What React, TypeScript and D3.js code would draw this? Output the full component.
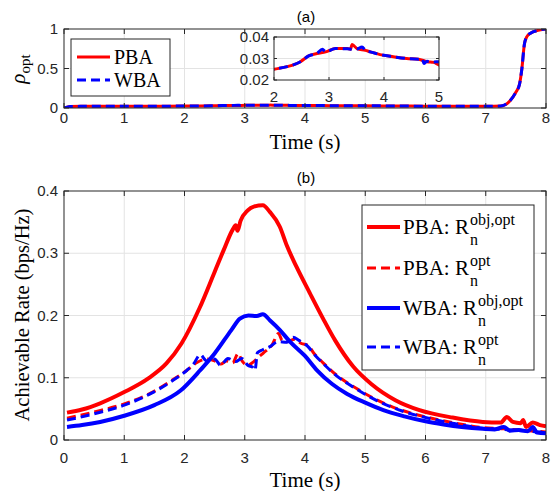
import React from 'react';
import * as d3 from 'd3';

// tick values
const timeTicks = [0, 1, 2, 3, 4, 5, 6, 7, 8];
const rhoTicks = [0, 0.5, 1];
const rateTicks = [0, 0.1, 0.2, 0.3, 0.4];
const insetXTicks = [2, 3, 4, 5];
const insetYTicks = [0.02, 0.03, 0.04];

// (a) rho_opt
const rhoPbaT = [0, 0.05, 0.1, 0.5, 1, 1.5, 2, 2.24, 2.48, 2.63, 2.78, 2.94, 3.12, 3.33, 3.39, 3.42, 3.51, 3.66, 3.75, 3.93, 4.17, 4.41, 4.63, 4.78, 4.9, 5.0, 5.5, 6.0, 6.5, 7.0, 7.25, 7.4, 7.5, 7.56, 7.6, 7.64, 7.68, 7.75, 7.85, 8.0];
const rhoPbaV = [0, 0.01, 0.02, 0.021, 0.021, 0.022, 0.025, 0.0262, 0.0285, 0.0312, 0.0323, 0.0331, 0.0346, 0.0346, 0.0343, 0.0365, 0.0346, 0.0338, 0.0331, 0.0318, 0.0308, 0.030, 0.0297, 0.0285, 0.0282, 0.027, 0.025, 0.023, 0.022, 0.021, 0.025, 0.09, 0.2, 0.3, 0.5, 0.8, 0.9, 0.95, 0.98, 1.0];
const rhoWbaT = [0, 0.05, 0.1, 0.5, 1, 1.5, 2, 2.24, 2.48, 2.63, 2.78, 2.88, 2.94, 3.12, 3.33, 3.42, 3.51, 3.6, 3.66, 3.75, 3.93, 4.17, 4.41, 4.63, 4.69, 4.73, 4.78, 4.9, 5.0, 5.5, 6.0, 6.5, 7.0, 7.25, 7.4, 7.5, 7.56, 7.6, 7.64, 7.68, 7.75, 7.85, 8.0];
const rhoWbaV = [0, 0.01, 0.02, 0.021, 0.021, 0.022, 0.025, 0.0262, 0.0285, 0.0312, 0.0323, 0.0343, 0.0331, 0.0346, 0.0345, 0.0343, 0.0344, 0.0354, 0.0338, 0.0331, 0.0318, 0.0308, 0.030, 0.0297, 0.0300, 0.0277, 0.0287, 0.0284, 0.0285, 0.025, 0.023, 0.022, 0.021, 0.025, 0.09, 0.2, 0.3, 0.5, 0.8, 0.9, 0.95, 0.98, 1.0];

// (b) achievable rate
const pbaObjT = [0.05, 0.3, 0.6, 1.0, 1.4, 1.7, 1.95, 2.25, 2.5, 2.65, 2.8, 2.85, 2.88, 2.93, 3.05, 3.15, 3.3, 3.42, 3.58, 3.7, 3.86, 4.08, 4.3, 4.5, 4.8, 5.1, 5.5, 5.9, 6.45, 6.95, 7.25, 7.35, 7.45, 7.58, 7.62, 7.67, 7.78, 7.9, 8.0];
const pbaObjV = [0.044, 0.049, 0.059, 0.077, 0.099, 0.123, 0.155, 0.212, 0.27, 0.305, 0.338, 0.345, 0.336, 0.352, 0.369, 0.375, 0.377, 0.366, 0.343, 0.312, 0.278, 0.236, 0.195, 0.16, 0.118, 0.09, 0.064, 0.048, 0.036, 0.029, 0.028, 0.037, 0.029, 0.027, 0.032, 0.021, 0.028, 0.024, 0.022];
const wbaObjT = [0.05, 0.3, 0.6, 1.0, 1.5, 1.93, 2.26, 2.5, 2.78, 2.92, 3.06, 3.2, 3.3, 3.42, 3.58, 3.75, 4.0, 4.2, 4.45, 4.7, 5.0, 5.3, 5.65, 6.0, 6.3, 6.6, 6.95, 7.15, 7.3, 7.4, 7.55, 7.7, 7.78, 7.85, 8.0];
const wbaObjV = [0.021, 0.024, 0.029, 0.039, 0.056, 0.079, 0.112, 0.139, 0.177, 0.195, 0.2, 0.199, 0.202, 0.192, 0.177, 0.158, 0.135, 0.112, 0.09, 0.074, 0.06, 0.048, 0.038, 0.03, 0.025, 0.021, 0.018, 0.017, 0.021, 0.015, 0.016, 0.014, 0.021, 0.012, 0.011];
const pbaOptT = [0.05, 0.5, 1.0, 1.43, 1.81, 2.04, 2.2, 2.37, 2.5, 2.6, 2.7, 2.8, 2.89, 2.95, 3.05, 3.15, 3.25, 3.35, 3.45, 3.56, 3.62, 3.7, 3.83, 3.94, 4.05, 4.15, 4.3, 4.5, 4.85, 5.2, 5.6, 6.05, 6.5, 6.95, 7.3, 7.7, 8.0];
const pbaOptV = [0.035, 0.045, 0.058, 0.075, 0.097, 0.112, 0.124, 0.13, 0.127, 0.122, 0.127, 0.124, 0.139, 0.128, 0.12, 0.126, 0.135, 0.143, 0.152, 0.171, 0.16, 0.158, 0.162, 0.155, 0.152, 0.139, 0.124, 0.106, 0.083, 0.064, 0.048, 0.036, 0.027, 0.02, 0.018, 0.015, 0.013];
const wbaOptT = [0.05, 0.5, 1.0, 1.43, 1.81, 2.04, 2.15, 2.26, 2.37, 2.5, 2.6, 2.72, 2.85, 2.95, 3.05, 3.13, 3.17, 3.21, 3.3, 3.42, 3.55, 3.7, 3.8, 3.9, 4.05, 4.15, 4.3, 4.5, 4.85, 5.2, 5.6, 6.05, 6.5, 6.95, 7.3, 7.7, 8.0];
const wbaOptV = [0.032, 0.042, 0.056, 0.074, 0.096, 0.112, 0.122, 0.137, 0.127, 0.13, 0.12, 0.131, 0.126, 0.131, 0.12, 0.117, 0.112, 0.14, 0.145, 0.15, 0.158, 0.157, 0.165, 0.16, 0.15, 0.138, 0.123, 0.105, 0.082, 0.063, 0.047, 0.035, 0.026, 0.019, 0.017, 0.014, 0.012];

const W = 551;
const H = 491;
const ink = '#262626';
const gridColor = '#e3e3e3';
const sans = '"Liberation Sans", Arial, Helvetica, sans-serif';
const serif = '"Liberation Serif", "Times New Roman", Times, serif';
const RED = '#ff0000';
const BLUE = '#0000ff';
const tickFont = 15;

const zip = (t: number[], v: number[]) => t.map((d, i) => [d, v[i]]);

const pathFor = (x, y, pts) =>
  d3.line<number[]>().x(d => x(d[0])).y(d => y(d[1])).curve(d3.curveMonotoneX)(pts);

// grid lines under the data
const Grid = ({ x, y, xTicks, yTicks }) => {
  const [x0, x1] = x.range();
  const [y0, y1] = y.range();
  return (
    <g stroke={gridColor} strokeWidth={1}>
      {xTicks.slice(1, -1).map(t => <line key={'gx' + t} x1={x(t)} x2={x(t)} y1={y0} y2={y1} />)}
      {yTicks.slice(1, -1).map(t => <line key={'gy' + t} x1={x0} x2={x1} y1={y(t)} y2={y(t)} />)}
    </g>
  );
};

// box, inward ticks and tick labels
const Frame = ({ x, y, xTicks, yTicks, xLabelY, yLabelX, tick = 5 }) => {
  const [x0, x1] = x.range();
  const [y0, y1] = y.range();
  return (
    <g>
      <g stroke={ink} strokeWidth={1}>
        {xTicks.map(t => (
          <g key={'tx' + t}>
            <line x1={x(t)} x2={x(t)} y1={y0} y2={y0 - tick} />
            <line x1={x(t)} x2={x(t)} y1={y1} y2={y1 + tick} />
          </g>
        ))}
        {yTicks.map(t => (
          <g key={'ty' + t}>
            <line x1={x0} x2={x0 + tick} y1={y(t)} y2={y(t)} />
            <line x1={x1} x2={x1 - tick} y1={y(t)} y2={y(t)} />
          </g>
        ))}
        <rect x={x0} y={y1} width={x1 - x0} height={y0 - y1} fill="none" />
      </g>
      <g fontFamily={sans} fontSize={tickFont} fill={ink}>
        {xTicks.map(t => (
          <text key={'lx' + t} x={x(t)} y={xLabelY} textAnchor="middle">{String(t)}</text>
        ))}
        {yTicks.map(t => (
          <text key={'ly' + t} x={yLabelX} y={y(t) + 5} textAnchor="end">{String(t)}</text>
        ))}
      </g>
    </g>
  );
};

const Series = ({ x, y, pts, color, width, dash = null, clip = null }) => (
  <path
    d={pathFor(x, y, pts)}
    fill="none"
    stroke={color}
    strokeWidth={width}
    strokeDasharray={dash || undefined}
    strokeLinejoin="round"
    clipPath={clip || undefined}
  />
);

const RLabel = ({ x, y, name, sup }) => (
  <text x={x} y={y} fontFamily={serif} fontSize={21} fill="#000">
    <tspan>{name}: R</tspan>
    <tspan fontSize={16} dx={1} dy={11}>n</tspan>
    <tspan fontSize={16} dx={-8} dy={-20}>{sup}</tspan>
  </text>
);

const App = () => {
  const xA = d3.scaleLinear().domain([0, 8]).range([64, 546]);
  const yA = d3.scaleLinear().domain([0, 1]).range([108, 29]);
  const xI = d3.scaleLinear().domain([2, 5]).range([274, 439]);
  const yI = d3.scaleLinear().domain([0.02, 0.04]).range([80, 37]);
  const xB = d3.scaleLinear().domain([0, 8]).range([64, 546]);
  const yB = d3.scaleLinear().domain([0, 0.4]).range([440, 191]);

  const rhoPba = zip(rhoPbaT, rhoPbaV);
  const rhoWba = zip(rhoWbaT, rhoWbaV);

  const dashMain = '9,5';

  return (
    <svg width={W} height={H} style={{ position: 'absolute', left: 0, top: 0, background: '#fff' }}>
      <defs>
        <clipPath id="clipA"><rect x={64} y={29} width={482} height={79} /></clipPath>
        <clipPath id="clipI"><rect x={274} y={37} width={165} height={43} /></clipPath>
        <clipPath id="clipB"><rect x={64} y={191} width={482} height={249} /></clipPath>
      </defs>

      {/* ---- (a) ---- */}
      <Grid x={xA} y={yA} xTicks={timeTicks} yTicks={rhoTicks} />
      <Series x={xA} y={yA} pts={rhoPba} color={RED} width={3} clip="url(#clipA)" />
      <Series x={xA} y={yA} pts={rhoWba} color={BLUE} width={3} dash={dashMain} clip="url(#clipA)" />
      <Frame x={xA} y={yA} xTicks={timeTicks} yTicks={rhoTicks} xLabelY={123} yLabelX={58} />
      <text x={306} y={22} textAnchor="middle" fontFamily={sans} fontSize={15} fill="#000">(a)</text>
      <text x={305} y={149} textAnchor="middle" fontFamily={serif} fontSize={21} fill="#000">Time (s)</text>
      <text transform="translate(25,69) rotate(-90)" textAnchor="middle" fontFamily={serif} fontSize={21} fill="#000">
        <tspan fontStyle="italic">ρ</tspan>
        <tspan fontSize={15} dy={5}>opt</tspan>
      </text>

      {/* legend (a) */}
      <rect x={71} y={39} width={99} height={57} fill="#fff" stroke={ink} strokeWidth={1} />
      <line x1={77} x2={110} y1={57} y2={57} stroke={RED} strokeWidth={3} />
      <line x1={77} x2={110} y1={80} y2={80} stroke={BLUE} strokeWidth={3} strokeDasharray={dashMain} />
      <text x={114} y={64} fontFamily={serif} fontSize={20} fill="#000">PBA</text>
      <text x={114} y={87} fontFamily={serif} fontSize={20} fill="#000">WBA</text>

      {/* inset */}
      <rect x={274} y={37} width={165} height={43} fill="#fff" />
      <Grid x={xI} y={yI} xTicks={insetXTicks} yTicks={insetYTicks} />
      <Series x={xI} y={yI} pts={rhoPba} color={RED} width={3} clip="url(#clipI)" />
      <Series x={xI} y={yI} pts={rhoWba} color={BLUE} width={3} dash={dashMain} clip="url(#clipI)" />
      <Frame x={xI} y={yI} xTicks={insetXTicks} yTicks={insetYTicks} xLabelY={102} yLabelX={269} tick={3} />

      {/* ---- (b) ---- */}
      <Grid x={xB} y={yB} xTicks={timeTicks} yTicks={rateTicks} />
      <g clipPath="url(#clipB)">
        <Series x={xB} y={yB} pts={zip(pbaObjT, pbaObjV)} color={RED} width={4} />
        <Series x={xB} y={yB} pts={zip(pbaOptT, pbaOptV)} color={RED} width={3} dash={dashMain} />
        <Series x={xB} y={yB} pts={zip(wbaObjT, wbaObjV)} color={BLUE} width={4} />
        <Series x={xB} y={yB} pts={zip(wbaOptT, wbaOptV)} color={BLUE} width={3} dash={dashMain} />
      </g>
      <Frame x={xB} y={yB} xTicks={timeTicks} yTicks={rateTicks} xLabelY={463} yLabelX={58} />
      <text x={306} y={183} textAnchor="middle" fontFamily={sans} fontSize={15} fill="#000">(b)</text>
      <text x={305} y={487} textAnchor="middle" fontFamily={serif} fontSize={21} fill="#000">Time (s)</text>
      <text transform="translate(29,315) rotate(-90)" textAnchor="middle" fontFamily={serif} fontSize={20.5} fill="#000">
        Achievable Rate (bps/Hz)
      </text>

      {/* legend (b) */}
      <rect x={362} y={205} width={172} height={165} fill="#fff" stroke={ink} strokeWidth={1} />
      <line x1={367} x2={400} y1={227} y2={227} stroke={RED} strokeWidth={4} />
      <line x1={367} x2={400} y1={268} y2={268} stroke={RED} strokeWidth={3} strokeDasharray={dashMain} />
      <line x1={367} x2={400} y1={308} y2={308} stroke={BLUE} strokeWidth={4} />
      <line x1={367} x2={400} y1={347} y2={347} stroke={BLUE} strokeWidth={3} strokeDasharray={dashMain} />
      <RLabel x={403} y={234} name="PBA" sup="obj,opt" />
      <RLabel x={403} y={275} name="PBA" sup="opt" />
      <RLabel x={403} y={315} name="WBA" sup="obj,opt" />
      <RLabel x={403} y={354} name="WBA" sup="opt" />
    </svg>
  );
};

export default App;
